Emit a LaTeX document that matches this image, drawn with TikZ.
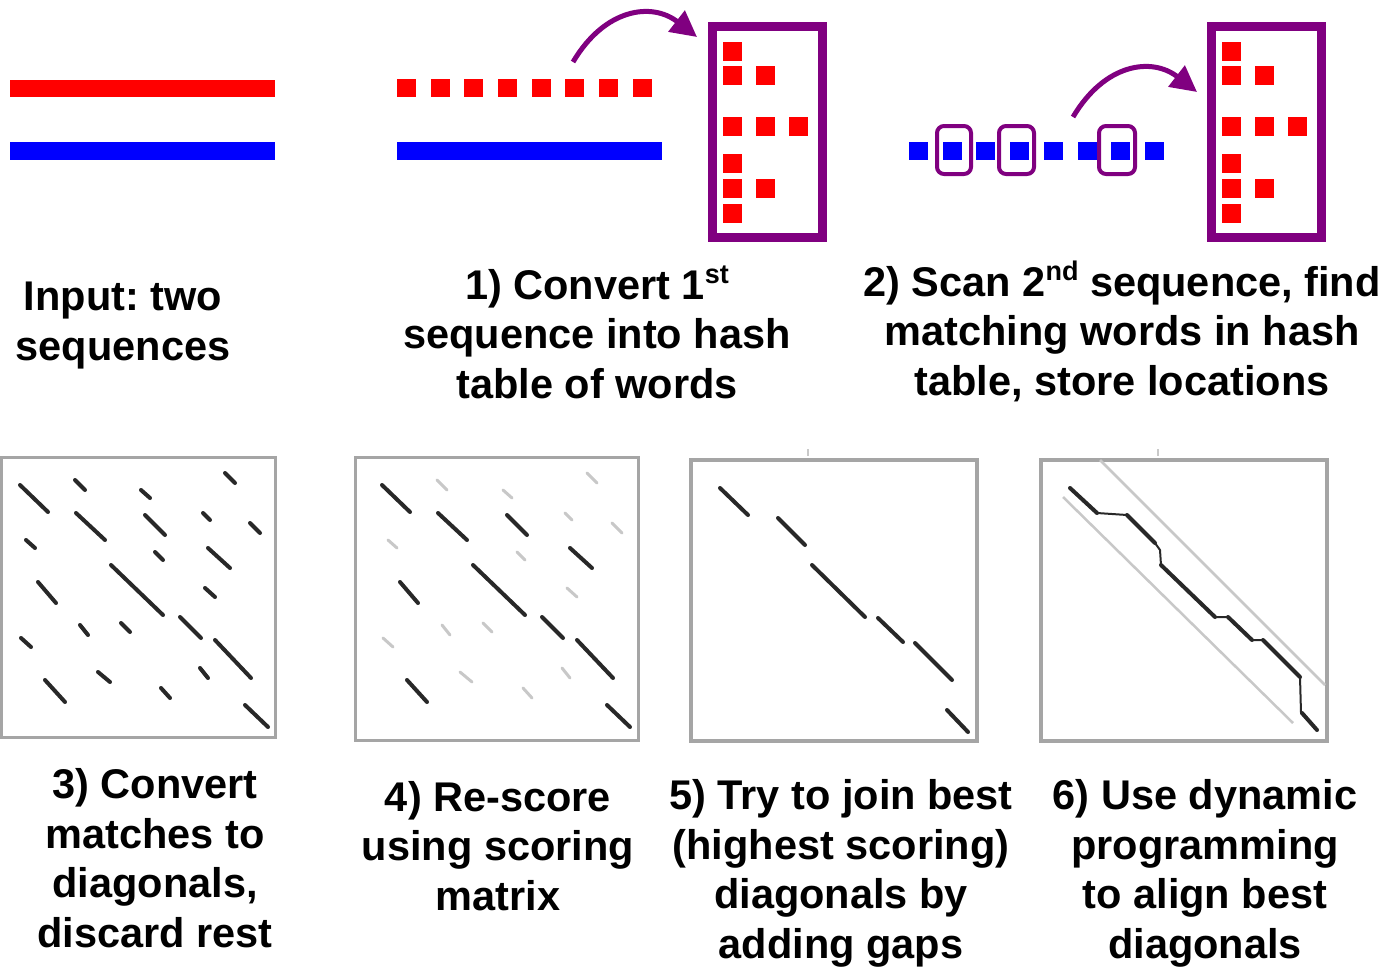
\documentclass[tikz,border=0pt]{standalone}
\usepackage{fontspec}
\setmainfont{Liberation Sans}
\usetikzlibrary{arrows.meta}
\definecolor{seqred}{RGB}{255,0,0}
\definecolor{seqblue}{RGB}{0,0,255}
\definecolor{hashpurple}{RGB}{128,0,128}
\definecolor{framegray}{RGB}{165,165,165}
\definecolor{hitdark}{RGB}{40,40,40}
\definecolor{hitlight}{RGB}{200,200,200}
\definecolor{bandgray}{RGB}{200,200,200}

% ordinal suffix, set small and raised
\newcommand\ordsup[1]{\raisebox{16pt}{\fontsize{27}{27}\selectfont #1}}

% hash table: frame plus stored words, #1 = left x of the frame
\newcommand\drawhashtable[1]{%
  \draw[hashbox] (#1+5,26) rectangle (#1+115,237);
  \foreach \c/\r in {0/0,0/1,1/1,0/2,1/2,2/2,0/3,0/4,1/4,0/5}{
    \pgfmathsetmacro\colx{{16,49,82}[\c]}
    \pgfmathsetmacro\rowy{{42,66,117,154,179,204}[\r]}
    \fill[seqred] ({#1+\colx},\rowy) rectangle ++(19,19);
  }%
}

% word hits of the dot plot, relative to the plot origin
\newcommand\drawhits{%
  \foreach \xa/\ya/\xb/\yb/\k in {
     27/28/55/55/hitd, 82/23/92/33/hitl, 148/33/157/41/hitl, 232/16/242/26/hitl,
     83/56/112/83/hitd, 152/58/172/78/hitd, 210/56/217/63/hitl, 257/66/267/76/hitl,
     33/83/42/91/hitl, 162/95/170/103/hitl, 215/91/237/111/hitd,
     45/125/63/146/hitd, 118/108/170/158/hitd, 212/131/222/140/hitl,
     87/168/95/178/hitl, 128/166/137/175/hitl, 187/160/208/181/hitd,
     28/181/38/190/hitl, 222/183/258/221/hitd,
     52/223/72/245/hitd, 105/215/117/225/hitl, 207/211/215/221/hitl,
     168/231/177/241/hitl, 252/248/275/270/hitd}
    \draw[\k] (\xa,\ya) -- (\xb,\yb);%
}

\begin{document}
\begin{tikzpicture}[x=1pt,y=-1pt,
  steptext/.style={font=\fontsize{41.5}{49.5}\selectfont\bfseries\frenchspacing,
                   align=center, anchor=base, inner sep=0pt},
  hashbox/.style={draw=hashpurple, line width=9pt},
  hitbox/.style={draw=hashpurple, line width=4pt, rounded corners=7pt},
  jump/.style={draw=hashpurple, line width=5pt,
               -{Triangle[length=26pt,width=26pt]}},
  plotframe/.style={draw=framegray, line width=3pt},
  diagseg/.style={draw=hitdark, line width=4pt, line cap=round},
  faintseg/.style={draw=hitlight, line width=3pt, line cap=round},
  hitd/.style={diagseg},
  hitl/.style={faintseg},
  band/.style={draw=bandgray, line width=2.5pt},
  path/.style={draw=hitdark, line width=2pt, line join=round}
]
\fill[white] (0,0) rectangle (1400,969);
\useasboundingbox (0,0) rectangle (1400,969);

% ---- input: two sequences
\fill[seqred] (10,80) rectangle (275,97);
\fill[seqblue] (10,142) rectangle (275,160);

% ---- step 1: first sequence cut into words, stored in a hash table
\foreach \i in {0,...,7}
  \fill[seqred] ({397+33.65*\i},79) rectangle ++(19,18);
\fill[seqblue] (397,142) rectangle (662,160);
\drawhashtable{707}
\coordinate (s1) at (573,62);
\coordinate (t1) at (697,37);
\draw[jump] (s1) .. controls (605,8) and (652,2) .. (t1);

% ---- step 2: scan second sequence, look up words
\foreach \i in {0,...,7}
  \fill[seqblue] ({909+33.7*\i},142) rectangle ++(19,18);
\draw[hitbox] (937,126) rectangle (971,174);
\draw[hitbox] (999,126) rectangle (1034,174);
\draw[hitbox] (1099,126) rectangle (1135,174);
\drawhashtable{1206}
\coordinate (s2) at (1073,117);
\coordinate (t2) at (1197,92);
\draw[jump] (s2) .. controls (1105,63) and (1152,57) .. (t2);

% ---- step 3: all hits as diagonals
\draw[plotframe] (1,457) rectangle (275,737);
\begin{scope}[shift={(-7,457)}, hitl/.style={diagseg}]
  \drawhits
\end{scope}

% ---- step 4: re-scored hits
\draw[plotframe] (355,457) rectangle (638,740);
\begin{scope}[shift={(355,457)}]
  \drawhits
\end{scope}

% ---- step 5: best diagonals only
\draw[draw=framegray!60, line width=1.5pt] (808,449) -- (808,456);
\draw[plotframe, line width=4pt] (691,460) rectangle (977,741);
\draw[diagseg] (720,488) -- (748,515);
\draw[diagseg] (778,518) -- (805,545);
\draw[diagseg] (812,565) -- (865,617);
\draw[diagseg] (878,618) -- (903,642);
\draw[diagseg] (915,643) -- (952,680);
\draw[diagseg] (947,710) -- (968,732);

% ---- step 6: banded dynamic programming
\draw[draw=framegray!60, line width=1.5pt] (1158,449) -- (1158,456);
\draw[plotframe, line width=4pt] (1041,460) rectangle (1327,741);
\draw[band] (1100,460) -- (1325,685);
\draw[band] (1063,497) -- (1293,723);
\draw[path] (1070,488) -- (1097,513) -- (1127,515) -- (1155,543) -- (1160,550)
  -- (1161,565) -- (1215,617) -- (1228,617) -- (1252,640) -- (1263,640)
  -- (1300,677) -- (1301,713) -- (1317,730);
\draw[diagseg] (1070,488) -- (1097,513);
\draw[diagseg] (1127,515) -- (1155,543);
\draw[diagseg] (1161,565) -- (1215,617);
\draw[diagseg] (1228,617) -- (1252,640);
\draw[diagseg] (1263,640) -- (1300,677);
\draw[diagseg] (1302,713) -- (1317,730);

% ---- captions (anchored on the baseline of their last line)
\node[steptext] (cin) at (123,360) {Input: two\\sequences};
\node[steptext] (c1) at (597,398) {1) Convert 1\ordsup{st}\\sequence into hash\\table of words};
\node[steptext] (c2) at (1122,395) {2) Scan 2\ordsup{nd} sequence, find\\matching words in hash\\table, store locations};
\node[steptext] (c3) at (155,947) {3) Convert\\matches to\\diagonals,\\discard rest};
\node[steptext] (c4) at (498,910) {4) Re-score\\using scoring\\matrix};
\node[steptext] (c5) at (841,958) {5) Try to join best\\(highest scoring)\\diagonals by\\adding gaps};
\node[steptext] (c6) at (1205,958) {6) Use dynamic\\programming\\to align best\\diagonals};
\end{tikzpicture}
\end{document}
